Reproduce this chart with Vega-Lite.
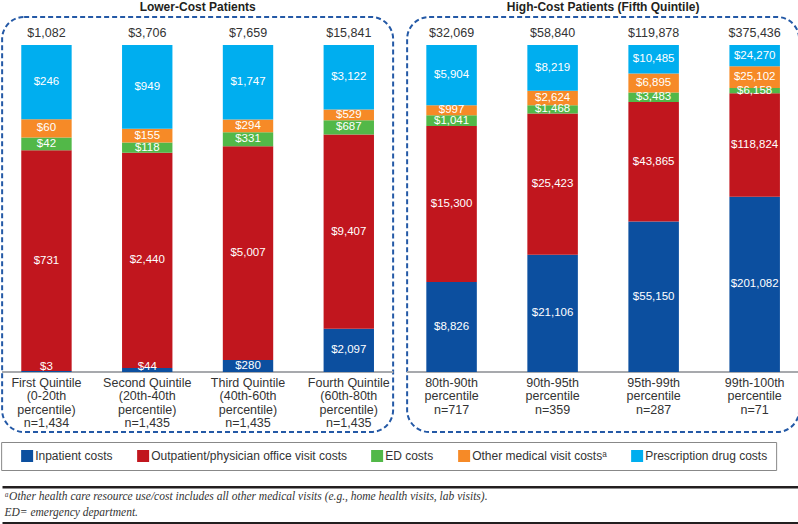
{
  "$schema": "https://vega.github.io/schema/vega-lite/v6.json",
  "padding": 0,
  "background": "white",
  "datasets": {
    "costs": [
      {"panel": "Lower", "group": "Q1", "cat": "Inpatient costs", "value": 3},
      {"panel": "Lower", "group": "Q1", "cat": "Outpatient/physician office visit costs", "value": 731},
      {"panel": "Lower", "group": "Q1", "cat": "ED costs", "value": 42},
      {"panel": "Lower", "group": "Q1", "cat": "Other medical visit costsᵃ", "value": 60},
      {"panel": "Lower", "group": "Q1", "cat": "Prescription drug costs", "value": 246},
      {"panel": "Lower", "group": "Q2", "cat": "Inpatient costs", "value": 44},
      {"panel": "Lower", "group": "Q2", "cat": "Outpatient/physician office visit costs", "value": 2440},
      {"panel": "Lower", "group": "Q2", "cat": "ED costs", "value": 118},
      {"panel": "Lower", "group": "Q2", "cat": "Other medical visit costsᵃ", "value": 155},
      {"panel": "Lower", "group": "Q2", "cat": "Prescription drug costs", "value": 949},
      {"panel": "Lower", "group": "Q3", "cat": "Inpatient costs", "value": 280},
      {"panel": "Lower", "group": "Q3", "cat": "Outpatient/physician office visit costs", "value": 5007},
      {"panel": "Lower", "group": "Q3", "cat": "ED costs", "value": 331},
      {"panel": "Lower", "group": "Q3", "cat": "Other medical visit costsᵃ", "value": 294},
      {"panel": "Lower", "group": "Q3", "cat": "Prescription drug costs", "value": 1747},
      {"panel": "Lower", "group": "Q4", "cat": "Inpatient costs", "value": 2097},
      {"panel": "Lower", "group": "Q4", "cat": "Outpatient/physician office visit costs", "value": 9407},
      {"panel": "Lower", "group": "Q4", "cat": "ED costs", "value": 687},
      {"panel": "Lower", "group": "Q4", "cat": "Other medical visit costsᵃ", "value": 529},
      {"panel": "Lower", "group": "Q4", "cat": "Prescription drug costs", "value": 3122},
      {"panel": "High", "group": "P80", "cat": "Inpatient costs", "value": 8826},
      {"panel": "High", "group": "P80", "cat": "Outpatient/physician office visit costs", "value": 15300},
      {"panel": "High", "group": "P80", "cat": "ED costs", "value": 1041},
      {"panel": "High", "group": "P80", "cat": "Other medical visit costsᵃ", "value": 997},
      {"panel": "High", "group": "P80", "cat": "Prescription drug costs", "value": 5904},
      {"panel": "High", "group": "P90", "cat": "Inpatient costs", "value": 21106},
      {"panel": "High", "group": "P90", "cat": "Outpatient/physician office visit costs", "value": 25423},
      {"panel": "High", "group": "P90", "cat": "ED costs", "value": 1468},
      {"panel": "High", "group": "P90", "cat": "Other medical visit costsᵃ", "value": 2624},
      {"panel": "High", "group": "P90", "cat": "Prescription drug costs", "value": 8219},
      {"panel": "High", "group": "P95", "cat": "Inpatient costs", "value": 55150},
      {"panel": "High", "group": "P95", "cat": "Outpatient/physician office visit costs", "value": 43865},
      {"panel": "High", "group": "P95", "cat": "ED costs", "value": 3483},
      {"panel": "High", "group": "P95", "cat": "Other medical visit costsᵃ", "value": 6895},
      {"panel": "High", "group": "P95", "cat": "Prescription drug costs", "value": 10485},
      {"panel": "High", "group": "P99", "cat": "Inpatient costs", "value": 201082},
      {"panel": "High", "group": "P99", "cat": "Outpatient/physician office visit costs", "value": 118824},
      {"panel": "High", "group": "P99", "cat": "ED costs", "value": 6158},
      {"panel": "High", "group": "P99", "cat": "Other medical visit costsᵃ", "value": 25102},
      {"panel": "High", "group": "P99", "cat": "Prescription drug costs", "value": 24270}
    ],
    "groups": [
      {"panel": "Lower", "group": "Q1", "total": 1082, "label": "First Quintile\n(0-20th\npercentile)\nn=1,434"},
      {"panel": "Lower", "group": "Q2", "total": 3706, "label": "Second Quintile\n(20th-40th\npercentile)\nn=1,435"},
      {"panel": "Lower", "group": "Q3", "total": 7659, "label": "Third Quintile\n(40th-60th\npercentile)\nn=1,435"},
      {"panel": "Lower", "group": "Q4", "total": 15841, "label": "Fourth Quintile\n(60th-80th\npercentile)\nn=1,435"},
      {"panel": "High", "group": "P80", "total": 32069, "label": "80th-90th\npercentile\nn=717"},
      {"panel": "High", "group": "P90", "total": 58840, "label": "90th-95th\npercentile\nn=359"},
      {"panel": "High", "group": "P95", "total": 119878, "label": "95th-99th\npercentile\nn=287"},
      {"panel": "High", "group": "P99", "total": 375436, "label": "99th-100th\npercentile\nn=71"}
    ],
    "notes": [
      {"line": 1, "text": "ᵃOther health care resource use/cost includes all other medical visits (e.g., home health visits, lab visits)."},
      {"line": 2, "text": "ED= emergency department."}
    ]
  },
  "config": {
    "font": "Liberation Sans",
    "view": {"stroke": null},
    "title": {"fontSize": 12, "fontWeight": "bold", "color": "#231f20", "offset": 3, "anchor": "middle"},
    "legend": {
      "orient": "none",
      "legendX": -1,
      "legendY": 425,
      "direction": "horizontal",
      "title": null,
      "symbolType": "square",
      "symbolSize": 144,
      "symbolStrokeWidth": 0,
      "labelFontSize": 12,
      "labelColor": "#333333",
      "labelOffset": 2,
      "labelLimit": 400,
      "columnPadding": 12,
      "symbolOffset": 12,
      "padding": 8,
      "strokeColor": "#888888"
    }
  },
  "spacing": 14,
  "center": true,
  "resolve": {"scale": {"color": "independent"}, "legend": {"color": "independent"}},
  "vconcat": [
    {
      "spacing": 10,
      "resolve": {"scale": {"x": "independent", "y": "independent"}},
      "hconcat": [
        {
          "width": 391,
          "height": 415,
          "title": "Lower-Cost Patients",
          "view": {"stroke": "#2459a6", "strokeWidth": 2, "strokeDash": [5, 3], "cornerRadius": 22},
          "layer": [
            {
              "data": {"name": "groups"},
              "transform": [{"filter": "datum.panel === 'Lower'"}],
              "mark": {"type": "rule", "color": "#a7a9ac", "strokeWidth": 1.5},
              "encoding": {"y": {"datum": 0, "type": "quantitative"}}
            },
            {
              "data": {"name": "costs"},
              "transform": [
                {"filter": "datum.panel === 'Lower'"},
                {"calculate": "indexof(['Inpatient costs','Outpatient/physician office visit costs','ED costs','Other medical visit costsᵃ','Prescription drug costs'], datum.cat)", "as": "ord"},
                {"stack": "value", "groupby": ["group"], "sort": [{"field": "ord", "order": "ascending"}], "offset": "normalize", "as": ["y0", "y1"]},
                {"calculate": "max((datum.y0 + datum.y1) / 2, 0.015)", "as": "ymid"}
              ],
              "layer": [
                {
                  "mark": {"type": "bar"},
                  "encoding": {
                    "x": {"field": "group", "type": "nominal", "sort": null, "axis": null, "scale": {"paddingInner": 0.5, "paddingOuter": 0.19}},
                    "y": {"field": "y0", "type": "quantitative", "axis": null, "scale": {"domain": [-0.1835, 1.0856], "nice": false, "zero": false}},
                    "y2": {"field": "y1"},
                    "color": {
                      "field": "cat", "type": "nominal",
                      "scale": {
                        "domain": ["Inpatient costs", "Outpatient/physician office visit costs", "ED costs", "Other medical visit costsᵃ", "Prescription drug costs"],
                        "range": ["#0c4f9f", "#c1161e", "#52b848", "#f68a27", "#00aeef"]
                      }
                    }
                  }
                },
                {
                  "mark": {"type": "text", "color": "white", "fontSize": 11.5, "baseline": "middle"},
                  "encoding": {
                    "x": {"field": "group", "type": "nominal", "sort": null},
                    "y": {"field": "ymid", "type": "quantitative"},
                    "text": {"field": "value", "type": "quantitative", "format": "$,d"}
                  }
                }
              ]
            },
            {
              "data": {"name": "groups"},
              "transform": [{"filter": "datum.panel === 'Lower'"}],
              "mark": {"type": "text", "color": "#333333", "fontSize": 12.5, "baseline": "middle", "dy": -12},
              "encoding": {
                "x": {"field": "group", "type": "nominal", "sort": null},
                "y": {"datum": 1, "type": "quantitative"},
                "text": {"field": "total", "type": "quantitative", "format": "$,d"}
              }
            },
            {
              "data": {"name": "groups"},
              "transform": [{"filter": "datum.panel === 'Lower'"}],
              "mark": {"type": "text", "color": "#333333", "fontSize": 12.5, "baseline": "top", "dy": 5, "lineBreak": "\n", "lineHeight": 13.5},
              "encoding": {
                "x": {"field": "group", "type": "nominal", "sort": null},
                "y": {"datum": 0, "type": "quantitative"},
                "text": {"field": "label", "type": "nominal"}
              }
            }
          ]
        },
        {
          "width": 392,
          "height": 415,
          "title": "High-Cost Patients (Fifth Quintile)",
          "view": {"stroke": "#2459a6", "strokeWidth": 2, "strokeDash": [5, 3], "cornerRadius": 22},
          "layer": [
            {
              "data": {"name": "groups"},
              "transform": [{"filter": "datum.panel === 'High'"}],
              "mark": {"type": "rule", "color": "#a7a9ac", "strokeWidth": 1.5},
              "encoding": {"y": {"datum": 0, "type": "quantitative"}}
            },
            {
              "data": {"name": "costs"},
              "transform": [
                {"filter": "datum.panel === 'High'"},
                {"calculate": "indexof(['Inpatient costs','Outpatient/physician office visit costs','ED costs','Other medical visit costsᵃ','Prescription drug costs'], datum.cat)", "as": "ord"},
                {"stack": "value", "groupby": ["group"], "sort": [{"field": "ord", "order": "ascending"}], "offset": "normalize", "as": ["y0", "y1"]},
                {"calculate": "max((datum.y0 + datum.y1) / 2, 0.015)", "as": "ymid"}
              ],
              "layer": [
                {
                  "mark": {"type": "bar"},
                  "encoding": {
                    "x": {"field": "group", "type": "nominal", "sort": null, "axis": null, "scale": {"paddingInner": 0.5, "paddingOuter": 0.19}},
                    "y": {"field": "y0", "type": "quantitative", "axis": null, "scale": {"domain": [-0.1835, 1.0856], "nice": false, "zero": false}},
                    "y2": {"field": "y1"},
                    "color": {
                      "field": "cat", "type": "nominal",
                      "scale": {
                        "domain": ["Inpatient costs", "Outpatient/physician office visit costs", "ED costs", "Other medical visit costsᵃ", "Prescription drug costs"],
                        "range": ["#0c4f9f", "#c1161e", "#52b848", "#f68a27", "#00aeef"]
                      }
                    }
                  }
                },
                {
                  "mark": {"type": "text", "color": "white", "fontSize": 11.5, "baseline": "middle"},
                  "encoding": {
                    "x": {"field": "group", "type": "nominal", "sort": null},
                    "y": {"field": "ymid", "type": "quantitative"},
                    "text": {"field": "value", "type": "quantitative", "format": "$,d"}
                  }
                }
              ]
            },
            {
              "data": {"name": "groups"},
              "transform": [{"filter": "datum.panel === 'High'"}],
              "mark": {"type": "text", "color": "#333333", "fontSize": 12.5, "baseline": "middle", "dy": -12},
              "encoding": {
                "x": {"field": "group", "type": "nominal", "sort": null},
                "y": {"datum": 1, "type": "quantitative"},
                "text": {"field": "total", "type": "quantitative", "format": "$,d"}
              }
            },
            {
              "data": {"name": "groups"},
              "transform": [{"filter": "datum.panel === 'High'"}],
              "mark": {"type": "text", "color": "#333333", "fontSize": 12.5, "baseline": "top", "dy": 5, "lineBreak": "\n", "lineHeight": 13.5},
              "encoding": {
                "x": {"field": "group", "type": "nominal", "sort": null},
                "y": {"datum": 0, "type": "quantitative"},
                "text": {"field": "label", "type": "nominal"}
              }
            }
          ]
        }
      ]
    },
    {
      "spacing": 0,
      "vconcat": [
        {
          "width": 798,
          "height": 2.5,
          "view": {"fill": "#231f20", "stroke": null},
          "data": {"values": [{}]},
          "mark": {"type": "rule", "opacity": 0},
          "encoding": {}
        },
        {
          "width": 798,
          "height": 32,
          "data": {"name": "notes"},
          "mark": {"type": "text", "align": "left", "baseline": "middle", "font": "Liberation Serif", "fontStyle": "italic", "fontSize": 11.5, "color": "#333333", "dx": 2},
          "encoding": {
            "x": {"datum": 0, "type": "quantitative", "scale": {"domain": [0, 1]}, "axis": null},
            "y": {"field": "line", "type": "ordinal", "axis": null, "scale": {"paddingOuter": 0}},
            "text": {"field": "text", "type": "nominal"}
          }
        },
        {
          "width": 798,
          "height": 6,
          "view": {"fill": "#231f20", "stroke": null},
          "data": {"values": [{}]},
          "mark": {"type": "rule", "opacity": 0},
          "encoding": {}
        }
      ]
    }
  ]
}
